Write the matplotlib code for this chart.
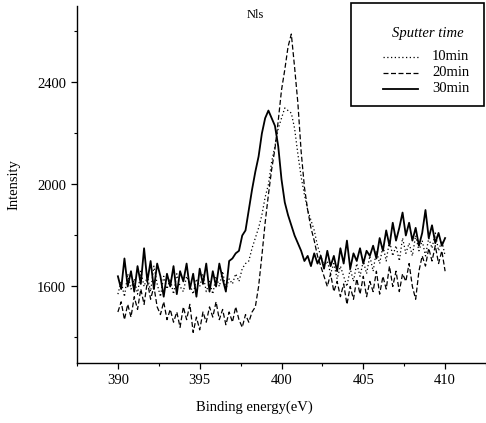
import numpy as np
import matplotlib
matplotlib.use("Agg")
import matplotlib.pyplot as plt
from matplotlib.lines import Line2D
from matplotlib.patches import Rectangle

plt.rcParams['font.family'] = ['Liberation Serif', 'DejaVu Serif']

# Binding energy grid start / step (eV)
e_start = 390.0
e_step = 0.2

# Intensity values (every 0.2 eV from 390 to 410)
i_10min = [1570, 1620, 1560, 1650, 1590, 1630, 1570, 1660, 1600, 1640,
           1580, 1680, 1610, 1560, 1640, 1590, 1630, 1570, 1650, 1600,
           1580, 1640, 1610, 1570, 1630, 1600, 1650, 1580, 1620, 1570,
           1640, 1600, 1660, 1590, 1630, 1610, 1650, 1620, 1670, 1690,
           1700, 1750, 1790, 1830, 1880, 1950, 2000, 2090, 2150, 2220,
           2260, 2300, 2290, 2280, 2220, 2120, 2030, 1960, 1900, 1860,
           1820, 1760, 1720, 1680, 1700, 1650, 1690, 1630, 1680, 1640,
           1600, 1670, 1620, 1690, 1640, 1700, 1650, 1720, 1660, 1740,
           1690, 1760, 1700, 1780, 1720, 1760, 1700, 1790, 1730, 1770,
           1720, 1800, 1740, 1780, 1720, 1790, 1750, 1810, 1740, 1780,
           1720]
i_20min = [1500, 1540, 1470, 1530, 1480, 1560, 1510, 1590, 1530, 1620,
           1550, 1600, 1520, 1490, 1540, 1470, 1510, 1460, 1500, 1440,
           1520, 1470, 1530, 1420, 1480, 1430, 1500, 1460, 1520, 1480,
           1540, 1470, 1510, 1450, 1500, 1460, 1520, 1470, 1440, 1490,
           1460, 1500, 1520, 1600, 1720, 1850, 1960, 2060, 2140, 2250,
           2370, 2450, 2540, 2590, 2460, 2320, 2130, 1990, 1900, 1830,
           1780, 1720, 1680, 1640, 1600, 1650, 1580, 1620, 1560, 1610,
           1530, 1600, 1550, 1630, 1570, 1640, 1560, 1620, 1580, 1660,
           1570, 1640, 1590, 1680, 1600, 1660, 1580, 1650, 1620, 1690,
           1600, 1550, 1660, 1720, 1680, 1750, 1700, 1760, 1690, 1740,
           1660]
i_30min = [1640, 1590, 1710, 1600, 1660, 1580, 1680, 1610, 1750, 1620,
           1700, 1590, 1690, 1640, 1560, 1650, 1600, 1680, 1570, 1660,
           1620, 1690, 1590, 1650, 1560, 1670, 1610, 1690, 1580, 1660,
           1600, 1690, 1630, 1580, 1700, 1710, 1730, 1740, 1800, 1820,
           1900, 1980, 2050, 2110, 2200, 2260, 2290, 2260, 2230, 2150,
           2020, 1930, 1880, 1840, 1800, 1770, 1740, 1700, 1720, 1680,
           1730, 1690, 1720, 1670, 1740, 1680, 1720, 1660, 1750, 1690,
           1780, 1670, 1730, 1700, 1750, 1690, 1740, 1720, 1760, 1710,
           1790, 1740, 1820, 1760, 1850, 1780, 1830, 1890, 1800, 1850,
           1780, 1830, 1760, 1810, 1900, 1790, 1840, 1770, 1810, 1760,
           1790]

labels = ["10min", "20min", "30min"]
x_ticks = [390, 395, 400, 405, 410]
y_ticks = [1600, 2000, 2400]

energy = e_start + e_step * np.arange(len(i_30min))

W, H = 486, 423
fig = plt.figure(figsize=(W / 100, H / 100), dpi=100)
ax = fig.add_axes([77 / W, 1 - 363 / H, (486 - 77) / W, (363 - 6) / H])

styles = [dict(ls=(0, (1, 2)), lw=0.9),
          dict(ls=(0, (4, 2)), lw=0.9),
          dict(ls='-', lw=1.3)]
for vals, st in zip([i_10min, i_20min, i_30min], styles):
    ax.plot(energy, vals, color='black', **st)

ax.set_xlim(387.5, 412.5)
ax.set_ylim(1300, 2700)
ax.set_xticks(x_ticks)
ax.set_yticks(y_ticks)
ax.set_xticks([387.5, 392.5, 397.5, 402.5, 407.5, 412.5], minor=True)
ax.set_yticks([1400, 1800, 2200, 2600], minor=True)
ax.tick_params(axis='both', which='major', direction='out', length=4,
               width=0.9, labelsize=10.5, pad=4)
ax.tick_params(axis='both', which='minor', direction='out', length=2.5,
               width=0.8)
ax.spines['top'].set_visible(False)
ax.spines['right'].set_visible(False)
ax.spines['left'].set_linewidth(1.0)
ax.spines['bottom'].set_linewidth(1.0)

ax.set_ylabel("Intensity", fontsize=10.5, labelpad=12)
ax.set_xlabel("Binding energy(eV)", fontsize=10.5)
ax.xaxis.set_label_coords((254 - 77) / 409, -(401 - 363) / 357)

fig.text(255 / W, 1 - 15 / H, "Nls", fontsize=9, ha='center', va='center')

# Legend box drawn in figure pixels
def fx(px):
    return px / W

def fy(py):
    return 1 - py / H

fig.patches.append(Rectangle((fx(351), fy(106)), fx(484) - fx(351),
                             fy(3) - fy(106), transform=fig.transFigure,
                             fill=False, edgecolor='black', lw=1.2))
fig.text(fx(428), fy(33), "Sputter time", fontsize=10.5, style='italic',
         ha='center', va='center')
for k, (lab, st) in enumerate(zip(labels, styles)):
    yy = fy(57 + 16 * k)
    fig.add_artist(Line2D([fx(383), fx(418)], [yy, yy], color='black',
                          transform=fig.transFigure, **st))
    fig.text(fx(432), yy, lab, fontsize=10.5, ha='left', va='center')

fig.savefig("out.png", dpi=100)
